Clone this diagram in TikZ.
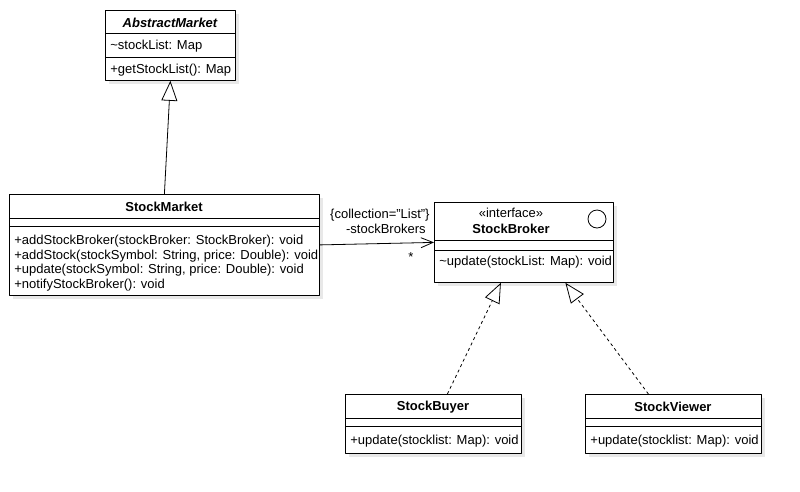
\documentclass[tikz,border=0pt]{standalone}
\usepackage{fontspec}
\setmainfont{Liberation Sans}
\usetikzlibrary{arrows.meta}
\begin{document}
\begin{tikzpicture}[x=1pt, y=-1pt, line join=round, line width=0.8pt,
		umlbox/.style={draw, fill=white, anchor=north west, inner sep=0pt},
		shadowbox/.style={fill=black!9},
		cname/.style={font=\fontsize{13}{15}\selectfont\bfseries, inner sep=0pt, yshift=-1.2pt},
		member/.style={font=\fontsize{13}{15}\selectfont, anchor=west, inner sep=0pt, yshift=-1.2pt},
		inherit/.style={-{Triangle[open, length=20pt, width=16pt]}},
		realize/.style={inherit, dash pattern=on 3pt off 3pt}]
	\useasboundingbox (0,0) rectangle (800,491);
	% AbstractMarket
	\fill[shadowbox] (109,14) rectangle (239,84);
	\node[umlbox, minimum width=130pt, minimum height=70pt] (am) at (105,10) {};
	\draw (105,33) -- (235,33) (105,57) -- (235,57);
	\node[cname, font=\fontsize{13}{15}\selectfont\bfseries\itshape] (am-name) at (170,21.5) {AbstractMarket};
	\node[member] (am-attr) at (110,45) {\textasciitilde stockList: Map};
	\node[member] (am-op) at (110,68.5) {+getStockList(): Map};
	% StockMarket
	\fill[shadowbox] (13,198) rectangle (323,299);
	\node[umlbox, minimum width=310pt, minimum height=101pt] (sm) at (9,194) {};
	\draw (9,218) -- (319,218) (9,226) -- (319,226);
	\node[cname] (sm-name) at (164,206) {StockMarket};
	\node[member] (sm-op1) at (14,240) {+addStockBroker(stockBroker: StockBroker): void};
	\node[member] (sm-op2) at (14,254.5) {+addStock(stockSymbol: String, price: Double): void};
	\node[member] (sm-op3) at (14,269) {+update(stockSymbol: String, price: Double): void};
	\node[member] (sm-op4) at (14,283.5) {+notifyStockBroker(): void};
	% StockBroker
	\fill[shadowbox] (438,206) rectangle (617,286);
	\node[umlbox, minimum width=179pt, minimum height=80pt] (sb) at (434,202) {};
	\draw (434,240) -- (613,240) (434,250) -- (613,250);
	\node[member, anchor=center] (sb-stereo) at (511,212) {«interface»};
	\node[cname] (sb-name) at (511,227.5) {StockBroker};
	\draw (597,219) circle (9);
	\node[member] (sb-op) at (439,260.5) {\textasciitilde update(stockList: Map): void};
	% StockBuyer
	\fill[shadowbox] (349,398) rectangle (525,457);
	\node[umlbox, minimum width=176pt, minimum height=59pt] (sbuy) at (345,394) {};
	\draw (345,418) -- (521,418) (345,426) -- (521,426);
	\node[cname] (sbuy-name) at (433,406) {StockBuyer};
	\node[member] (sbuy-op) at (350,440) {+update(stocklist: Map): void};
	% StockViewer
	\fill[shadowbox] (589,398) rectangle (765,457);
	\node[umlbox, minimum width=176pt, minimum height=59pt] (sv) at (585,394) {};
	\draw (585,418) -- (761,418) (585,426) -- (761,426);
	\node[cname] (sv-name) at (673,406) {StockViewer};
	\node[member] (sv-op) at (590,440) {+update(stocklist: Map): void};
	% relations
	\draw[inherit] (sm.north) -- (am.south);
	\draw[-{Straight Barb[length=12pt, width=10pt]}] (sm.east) -- (sb.west);
	\node[member, anchor=east] (assoc-prop) at (430,213.5) {\{collection="List"\}};
	\node[member, anchor=east] (assoc-role) at (426,228) {-stockBrokers};
	\node[member, anchor=center] (assoc-mult) at (411,256) {*};
	\draw[realize] ([xshift=14pt]sbuy.north) -- ([xshift=-23pt]sb.south);
	\draw[realize] ([xshift=-25pt]sv.north) -- ([xshift=41.5pt]sb.south);
\end{tikzpicture}
\end{document}
